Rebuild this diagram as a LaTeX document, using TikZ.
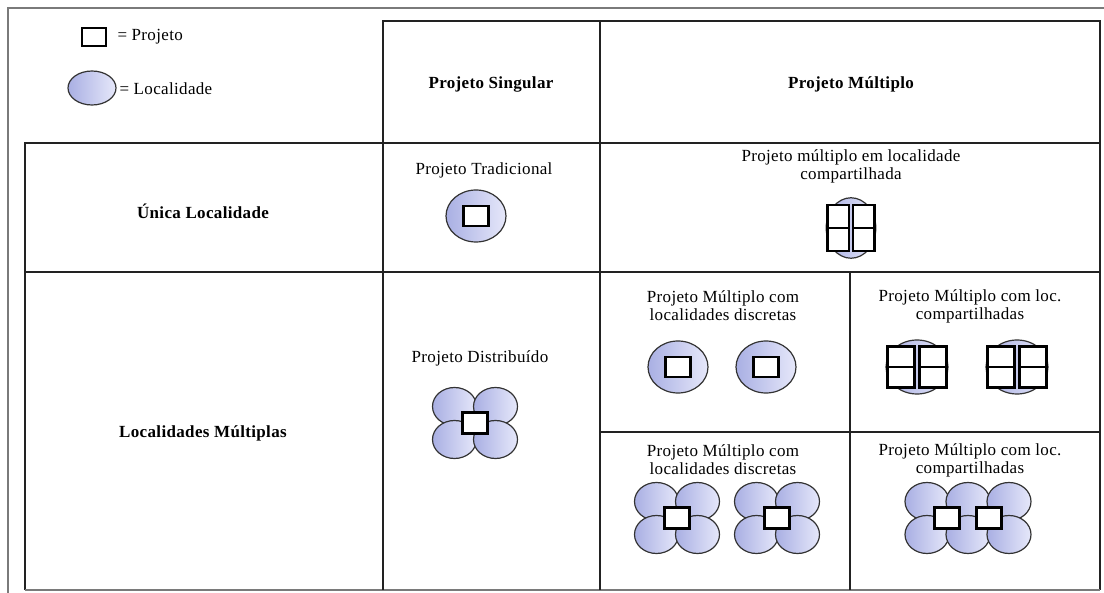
\documentclass[tikz,border=0pt]{standalone}
\usepackage{fontspec}
\setmainfont{Liberation Serif}[LetterSpace=2]
\definecolor{lilac}{HTML}{A9AFE3}
\definecolor{lilacpale}{HTML}{E6E8FA}
\definecolor{framegray}{HTML}{7A7A7A}
\definecolor{darkgray}{HTML}{222222}

\tikzset{
  rule/.style={line width=1.6pt, draw=darkgray},
  loc/.style={draw=black!80, line width=1.2pt, left color=lilac, right color=lilacpale},
  proj/.style={draw=black, line width=2.4pt, fill=white},
  head/.style={font=\fontsize{17}{19}\selectfont\bfseries},
  celltitle/.style={font=\fontsize{17}{18}\selectfont, align=center},
  key/.style={font=\fontsize{17}{19}\selectfont, anchor=west},
  pics/single/.style={code={
    \path[loc] (0,0) ellipse [x radius=30pt, y radius=26pt];
    \draw[proj] (-12.5,-10) rectangle (12.5,10);
  }},
  pics/shared/.style={code={
    \path[loc] (0,0) ellipse [x radius=31pt, y radius=27pt];
    \foreach \sx in {-29.5,2.5} \foreach \sy in {-20.5,0}
      \draw[proj] (\sx,\sy) rectangle ++(27,20.5);
  }},
  pics/flower/.style={code={
    \foreach \px/\py in {-20.5/-16.5,20.5/-16.5,-20.5/16.5,20.5/16.5}
      \path[loc] (\px,\py) ellipse [x radius=22pt, y radius=19pt];
    \draw[proj] (-12.5,-10.5) rectangle (12.5,10.5);
  }},
  pics/twinflower/.style={code={
    \foreach \px in {-41,0,41} \foreach \py in {-16.5,16.5}
      \path[loc] (\px,\py) ellipse [x radius=22pt, y radius=19pt];
    \foreach \px in {-21,21}
      \draw[proj] (\px-12.5,-10.5) rectangle (\px+12.5,10.5);
  }},
}

\begin{document}
\begin{tikzpicture}[x=1pt, y=-1pt]
\useasboundingbox[fill=white] (0,0) rectangle (1104,593);

% outer frame and table
\draw[framegray, line width=1.2pt] (8,593) -- (8,8) -- (1104,8);
\draw[rule] (383,21) rectangle (600,143);
\draw[rule] (600,21) rectangle (1100,143);
\draw[rule] (25,590) -- (25,143) -- (1100,143) -- (1100,590);
\draw[framegray, line width=1.2pt] (25,590) -- (1100,590);
\draw[rule] (25,272) -- (1100,272);
\draw[rule] (383,143) -- (383,590);
\draw[rule] (600,143) -- (600,590);
\draw[rule] (850,272) -- (850,590);
\draw[rule] (600,432) -- (1100,432);

% legend
\draw[proj] (82,28) rectangle (106,46);
\path[loc] (92,88) ellipse [x radius=24pt, y radius=17pt];
\node[key] (kproj) at (114,37) {= Projeto};
\node[key] (kloc) at (116,89) {= Localidade};

% headings
\node[head] (hsing) at (491,84) {Projeto Singular};
\node[head] (hmult) at (851,84) {Projeto Múltiplo};
\node[head] (runica) at (203,211) {Única Localidade};
\node[head] (rmult) at (203,433) {Localidades Múltiplas};

% cells
\node[celltitle] (ctrad) at (484,170) {Projeto Tradicional};
\node[celltitle] (ccomp) at (851,166) {Projeto múltiplo em localidade\\compartilhada};
\node[celltitle] (cdist) at (480,358) {Projeto Distribuído};
\node[celltitle] (cdisc) at (723,306) {Projeto Múltiplo com\\localidades discretas};
\node[celltitle] (cpart) at (970,306) {Projeto Múltiplo com loc.\\compartilhadas};
\node[celltitle] (cdisc2) at (723,460) {Projeto Múltiplo com\\localidades discretas};
\node[celltitle] (cpart2) at (970,460) {Projeto Múltiplo com loc.\\compartilhadas};

\pic at (476,216) {single};
\pic[xscale=0.8, yscale=1.12] at (851,228) {shared};
\pic at (475,423) {flower};
\foreach \cx in {678,766} \pic at (\cx,367) {single};
\foreach \cx in {917,1017} \pic at (\cx,367) {shared};
\foreach \cx in {677,777} \pic at (\cx,518) {flower};
\pic at (968,518) {twinflower};
\end{tikzpicture}
\end{document}
